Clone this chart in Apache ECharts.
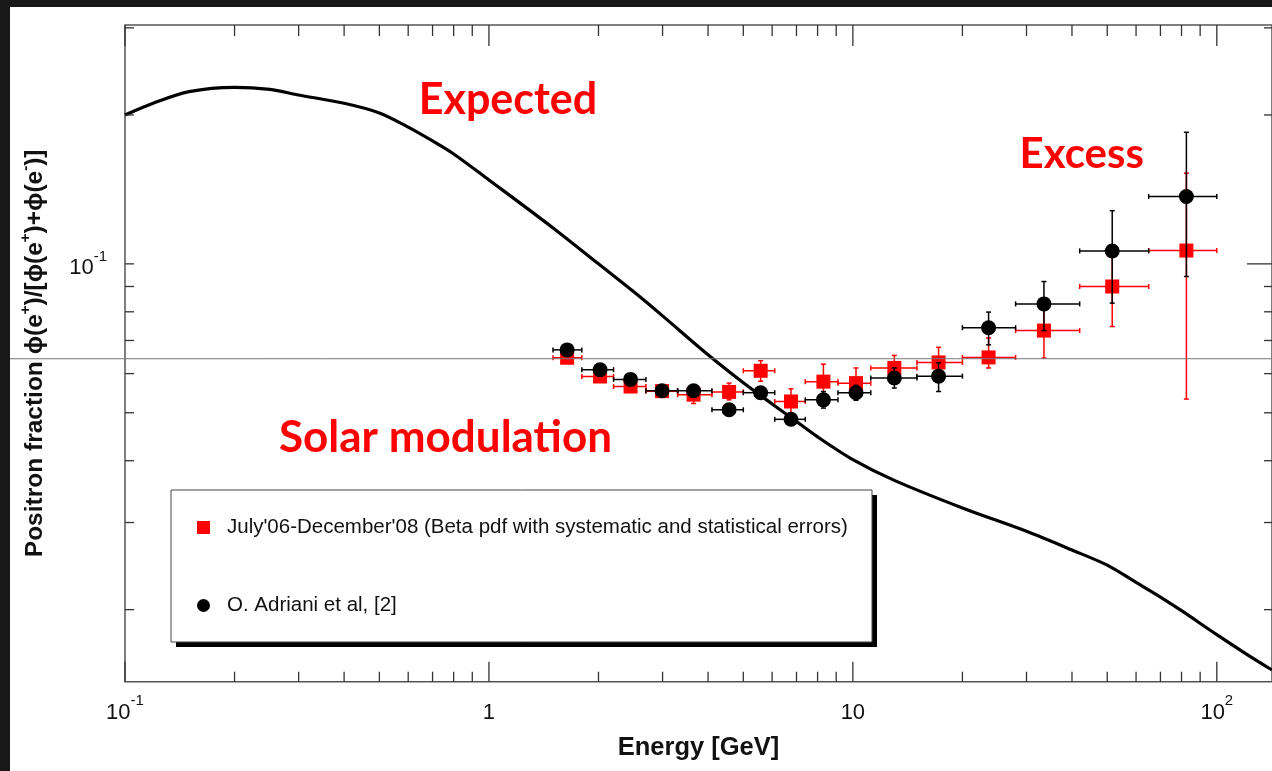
<!DOCTYPE html>
<html>
<head>
<meta charset="utf-8">
<script src="https://cdn.jsdelivr.net/npm/echarts@6/dist/echarts.min.js"></script>
<style>
  html, body { margin: 0; padding: 0; width: 1272px; height: 771px; overflow: hidden; background: #181818; }
  #chart { position: absolute; left: 10px; top: 7px; width: 1262px; height: 764px; background: #fff; }
</style>
</head>
<body>
<div id="chart"></div>
<script>
// ---- Energy bins (GeV) ----
const binMean = [1.64, 2.02, 2.45, 2.99, 3.65, 4.57, 5.58, 6.76, 8.30, 10.2, 13.0, 17.2, 23.6, 33.5, 51.6, 82.5];
const binLow  = [1.5, 1.8, 2.2, 2.7, 3.3, 4.1, 5.0, 6.1, 7.4, 9.1, 11.2, 15.0, 20.0, 28.0, 42.0, 65.0];
const binHigh = [1.8, 2.2, 2.7, 3.3, 4.1, 5.0, 6.1, 7.4, 9.1, 11.2, 15.0, 20.0, 28.0, 42.0, 65.0, 100.0];

// ---- July'06-December'08 positron fraction (red squares) ----
const betaFrac = [0.0646, 0.0592, 0.0565, 0.0553, 0.0544, 0.0551, 0.0608, 0.0527, 0.0578, 0.0574, 0.0616, 0.0632, 0.0647, 0.0733, 0.0900, 0.1064];
const betaLow  = [0.0632, 0.0579, 0.0553, 0.0541, 0.0522, 0.0531, 0.0579, 0.0498, 0.0534, 0.0536, 0.0580, 0.0590, 0.0616, 0.0645, 0.0747, 0.0533];
const betaHigh = [0.0660, 0.0605, 0.0578, 0.0565, 0.0562, 0.0574, 0.0637, 0.0559, 0.0627, 0.0616, 0.0653, 0.0678, 0.0708, 0.0830, 0.1075, 0.1525];

// ---- O. Adriani et al. positron fraction (black circles) ----
const adrFrac = [0.0670, 0.0611, 0.0584, 0.0554, 0.0554, 0.0507, 0.0549, 0.0485, 0.0531, 0.0549, 0.0588, 0.0593, 0.0743, 0.0830, 0.1062, 0.1368];
const adrLow  = [0.0655, 0.0598, 0.0572, 0.0543, 0.0543, 0.0497, 0.0537, 0.0474, 0.0511, 0.0530, 0.0561, 0.0552, 0.0686, 0.0733, 0.0833, 0.0943];
const adrHigh = [0.0685, 0.0624, 0.0596, 0.0565, 0.0565, 0.0517, 0.0561, 0.0497, 0.0552, 0.0568, 0.0616, 0.0631, 0.0799, 0.0921, 0.1281, 0.1845];

// ---- Expected secondary positron fraction (solid curve) ----
const curveE = [0.1, 0.12, 0.15, 0.2, 0.25, 0.3, 0.4, 0.5, 0.6, 0.7, 0.8, 1.0, 1.5, 2, 2.5, 3, 4, 5, 6, 7, 8, 10, 13, 20, 30, 40, 50, 60, 70, 80, 100, 120, 141.8];
const curveV = [0.2000, 0.2115, 0.2229, 0.2274, 0.2252, 0.2195, 0.2112, 0.2019, 0.1890, 0.1772, 0.1668, 0.1478, 0.1182, 0.1000, 0.0878, 0.0785, 0.0655, 0.0575, 0.0521, 0.0480, 0.0447, 0.0402, 0.0365, 0.0321, 0.0288, 0.0264, 0.0246, 0.0227, 0.0212, 0.0199, 0.0178, 0.0163, 0.0151];

// ---- Axis ticks ----
const xMajorTicks = [0.1, 1, 10, 100];
const xMinorTicks = [0.2, 0.3, 0.4, 0.5, 0.6, 0.7, 0.8, 0.9, 2, 3, 4, 5, 6, 7, 8, 9, 20, 30, 40, 50, 60, 70, 80, 90];
const yMajorTicks = [0.1];
const yMinorTicks = [0.02, 0.03, 0.04, 0.05, 0.06, 0.07, 0.08, 0.09, 0.2, 0.3];

const X_MIN = 0.1, X_MAX = 141.8;
const Y_MIN = 0.0143, Y_MAX = 0.304;
const GUIDE_LEVEL = 0.0643;

const redName = "July'06-December'08 (Beta pdf with systematic and statistical errors)";
const blackName = "O. Adriani et al, [2]";

const FONT = "'Liberation Sans', Arial, sans-serif";
const NOTE_FONT = "bold 43px Lato, 'Open Sans', sans-serif";
const RED = '#ff0000';

function rows(mean, val, lo, hi) {
  return mean.map((e, i) => [e, val[i], binLow[i], binHigh[i], lo[i], hi[i]]);
}

function errorBars(color) {
  return function (params, api) {
    const x = api.value(0), y = api.value(1);
    const l = api.coord([api.value(2), y]);
    const r = api.coord([api.value(3), y]);
    const b = api.coord([x, api.value(4)]);
    const t = api.coord([x, api.value(5)]);
    const c = 2.5;
    const st = { stroke: color, lineWidth: 1.5 };
    const seg = (x1, y1, x2, y2) => ({ type: 'line', shape: { x1, y1, x2, y2 }, style: st });
    return {
      type: 'group',
      children: [
        seg(l[0], l[1], r[0], r[1]),
        seg(l[0], l[1] - c, l[0], l[1] + c),
        seg(r[0], r[1] - c, r[0], r[1] + c),
        seg(b[0], b[1], t[0], t[1]),
        seg(b[0] - c, b[1], b[0] + c, b[1]),
        seg(t[0] - c, t[1], t[0] + c, t[1])
      ]
    };
  };
}

// tick kinds: 0 x-major, 1 x-minor, 2 y-major, 3 y-minor
const tickData = [].concat(
  xMajorTicks.map(v => [v, 0.1, 0]),
  xMinorTicks.map(v => [v, 0.1, 1]),
  yMajorTicks.map(v => [1, v, 2]),
  yMinorTicks.map(v => [1, v, 3])
);

function renderTicks(params, api) {
  const cs = params.coordSys;
  const kind = api.value(2);
  const p = api.coord([api.value(0), api.value(1)]);
  const st = { stroke: '#333', lineWidth: 1.3 };
  const seg = (x1, y1, x2, y2) => ({ type: 'line', shape: { x1, y1, x2, y2 }, style: st });
  const top = cs.y, bottom = cs.y + cs.height, left = cs.x, right = cs.x + cs.width;
  if (kind < 2) {
    const lb = kind === 0 ? 20 : 10, lt = kind === 0 ? 21 : 11;
    return { type: 'group', children: [seg(p[0], bottom, p[0], bottom - lb), seg(p[0], top, p[0], top + lt)] };
  }
  const ll = 9, lr = kind === 2 ? 25 : 8;
  return { type: 'group', children: [seg(left, p[1], left + ll, p[1]), seg(right, p[1], right - lr, p[1])] };
}

function powLabel(v) {
  const e = Math.log10(v);
  const n = Math.round(e);
  if (Math.abs(e - n) > 1e-6) return '';
  if (n === 0) return '{b|1}';
  if (n === 1) return '{b|10}';
  return '{b|10}{s|' + n + '}';
}

const labelRich = {
  b: { fontSize: 22, fontFamily: FONT, color: '#111', lineHeight: 30, verticalAlign: 'bottom' },
  s: { fontSize: 15, fontFamily: FONT, color: '#111', verticalAlign: 'top', lineHeight: 17 }
};

const chart = echarts.init(document.getElementById('chart'), null, { renderer: 'canvas' });

const option = {
  animation: false,
  backgroundColor: '#fff',
  grid: {
    left: 111.7, top: 18, width: 1152, height: 656.7,
    show: true, borderColor: '#555', borderWidth: 1.5, backgroundColor: 'transparent'
  },
  xAxis: {
    type: 'log', logBase: 10, min: X_MIN, max: X_MAX,
    name: 'Energy [GeV]', nameLocation: 'middle', nameGap: 53,
    nameTextStyle: { fontFamily: FONT, fontSize: 25.5, fontWeight: 'bold', color: '#111' },
    axisLine: { show: false }, axisTick: { show: false }, splitLine: { show: false },
    axisLabel: { margin: 12, formatter: powLabel, rich: labelRich, showMaxLabel: false }
  },
  yAxis: {
    type: 'log', logBase: 10, min: Y_MIN, max: Y_MAX,
    name: '{t|Positron fraction ϕ(e}{s|+}{t|)/[ϕ(e}{s|+}{t|)+ϕ(e}{s|-}{t|)]}',
    nameLocation: 'middle', nameGap: 77, nameRotate: 90,
    nameTextStyle: {
      rich: {
        t: { fontFamily: FONT, fontSize: 24.5, fontWeight: 'bold', color: '#111', lineHeight: 30, verticalAlign: 'bottom' },
        s: { fontFamily: FONT, fontSize: 15, fontWeight: 'bold', color: '#111', verticalAlign: 'top', lineHeight: 16 }
      }
    },
    axisLine: { show: false }, axisTick: { show: false }, splitLine: { show: false },
    axisLabel: { margin: 18, formatter: powLabel, rich: labelRich, showMinLabel: false, showMaxLabel: false }
  },
  legend: {
    orient: 'vertical', left: 187, top: 510,
    padding: 0,
    itemWidth: 13, itemHeight: 13, itemGap: 57,
    selectedMode: false,
    textStyle: { fontFamily: FONT, fontSize: 20.5, color: '#111', lineHeight: 20, padding: [0, 0, 0, 12] },
    data: [{ name: redName, icon: 'rect' }, { name: blackName, icon: 'circle' }]
  },
  series: [
    {
      name: 'expected', type: 'line', z: 2, symbol: 'none', smooth: 0.3,
      lineStyle: { color: '#000', width: 3.2 },
      data: curveE.map((e, i) => [e, curveV[i]])
    },
    {
      name: 'betaErr', type: 'custom', z: 3, renderItem: errorBars(RED),
      encode: { x: [0, 2, 3], y: [1, 4, 5] },
      data: rows(binMean, betaFrac, betaLow, betaHigh)
    },
    {
      name: redName, type: 'scatter', z: 4, symbol: 'rect', symbolSize: 14,
      itemStyle: { color: RED, opacity: 1 },
      data: binMean.map((e, i) => [e, betaFrac[i]])
    },
    {
      name: 'adrErr', type: 'custom', z: 5, renderItem: errorBars('#000'),
      encode: { x: [0, 2, 3], y: [1, 4, 5] },
      data: rows(binMean, adrFrac, adrLow, adrHigh)
    },
    {
      name: blackName, type: 'scatter', z: 6, symbol: 'circle', symbolSize: 15,
      itemStyle: { color: '#000', opacity: 1 },
      data: binMean.map((e, i) => [e, adrFrac[i]])
    },
    {
      name: 'ticks', type: 'custom', z: 7, renderItem: renderTicks, silent: true,
      data: tickData
    }
  ],
  graphic: [
    // legend frame with drop shadow
    { type: 'rect', z: 1, shape: { x: 166, y: 488, width: 701, height: 152 }, style: { fill: '#000' } },
    { type: 'rect', z: 1, shape: { x: 161, y: 483, width: 701, height: 152 }, style: { fill: '#fff', stroke: '#444', lineWidth: 1 } },
    { type: 'text', x: 498, y: 93, z: 20, style: { text: 'Expected', fill: RED, font: NOTE_FONT, textAlign: 'center', textVerticalAlign: 'middle' } },
    { type: 'text', x: 435.5, y: 431, z: 20, style: { text: 'Solar modulation', fill: RED, font: "bold 44px Lato, 'Open Sans', sans-serif", textAlign: 'center', textVerticalAlign: 'middle' } },
    { type: 'text', x: 1071.7, y: 147, z: 20, style: { text: 'Excess', fill: RED, font: "bold 42px Lato, 'Open Sans', sans-serif", textAlign: 'center', textVerticalAlign: 'middle' } }
  ]
};

chart.setOption(option);

// horizontal guide level across the whole figure
const gy = chart.convertToPixel({ yAxisIndex: 0 }, GUIDE_LEVEL);
chart.setOption({
  graphic: option.graphic.concat([
    { type: 'line', z: 30, shape: { x1: 0, y1: gy, x2: 1262, y2: gy }, style: { stroke: '#777', lineWidth: 1 } }
  ])
});
</script>
</body>
</html>
